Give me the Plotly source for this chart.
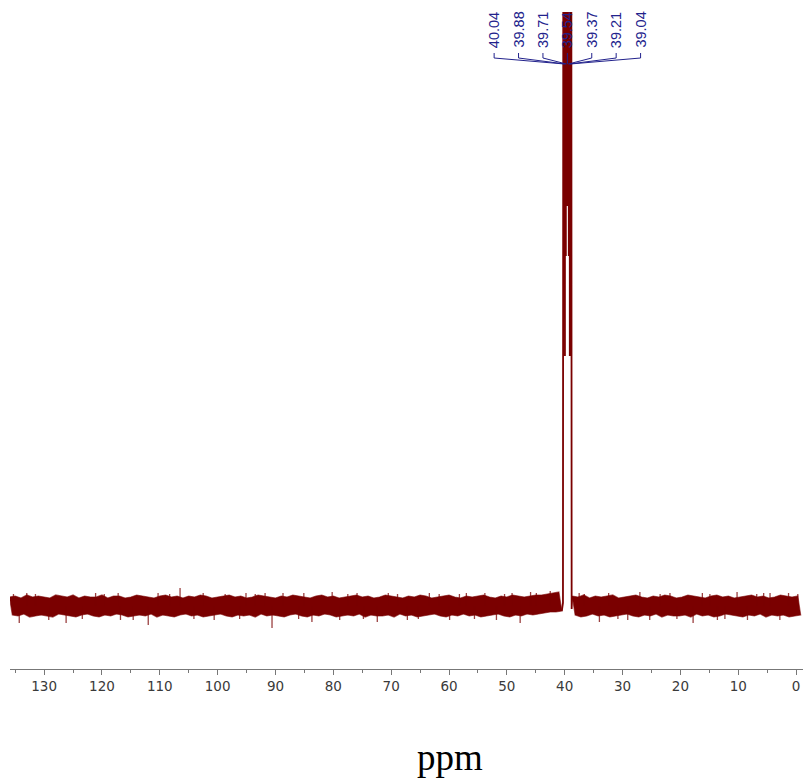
import numpy as np
import plotly.graph_objects as go

# ---- data (intensities in arbitrary units, baseline = 0) ----
# noise band extremes left of the solvent peak: pairs (hi at p, lo at p-0.5), p = 136 ... 41 ppm
noise_left_hi = [9, 10, 8, 11, 9, 10, 9, 8, 11, 10, 9, 11, 8, 10, 9, 9, 11, 8, 10, 10,
                 8, 9, 11, 10, 9, 8, 10, 11, 9, 10, 8, 10, 9, 11, 10, 8, 9, 10, 11, 9,
                 10, 8, 9, 11, 10, 9, 8, 10, 9, 11, 10, 9, 8, 10, 11, 9, 10, 8, 9, 10,
                 11, 9, 10, 8, 9, 11, 10, 9, 8, 10, 9, 11, 10, 8, 9, 10, 11, 9, 8, 10,
                 9, 10, 11, 9, 8, 10, 9, 11, 10, 9, 10, 11, 11, 12, 13, 14]
noise_left_lo = [-9, -10, -8, -11, -10, -9, -10, -11, -8, -9, -10, -11, -9, -8, -10, -11, -9, -10, -8, -9,
                 -11, -10, -9, -10, -8, -11, -9, -10, -11, -9, -8, -10, -9, -11, -10, -9, -8, -10, -11, -9,
                 -10, -9, -11, -8, -10, -9, -10, -11, -9, -8, -10, -11, -9, -10, -8, -9, -11, -10, -9, -10,
                 -8, -11, -9, -10, -10, -9, -11, -8, -10, -9, -11, -10, -9, -8, -10, -11, -9, -10, -8, -10,
                 -9, -11, -10, -9, -8, -10, -11, -9, -10, -8, -9, -8, -7, -6, -6, -5]
# right of the solvent peak: pairs (hi at p, lo at p-0.5), p = 38.7 ... -0.3 ppm
noise_right_hi = [10, 9, 11, 8, 10, 9, 10, 11, 8, 9, 10, 11, 9, 8, 10, 9, 11, 10, 8, 9,
                  11, 10, 9, 8, 10, 11, 9, 10, 8, 9, 10, 11, 9, 10, 8, 9, 11, 10, 9, 10]
noise_right_lo = [-9, -11, -10, -8, -10, -9, -11, -10, -9, -8, -10, -11, -9, -10, -8, -11, -9, -10, -10, -9,
                  -11, -8, -10, -9, -11, -10, -8, -9, -10, -11, -9, -10, -8, -11, -9, -10, -9, -11, -10, -9]
# isolated noise spikes sticking out of the band
spike_ppm = [135.3, 134.3, 133.0, 131.5, 129.2, 126.2, 123.4, 121.1, 119.6, 117.2, 116.8, 114.6,
             112.0, 110.3, 108.3, 106.5, 104.1, 102.5, 100.6, 98.7, 96.2, 95.1, 93.5, 91.8,
             90.6, 88.7, 86.0, 85.1, 83.7, 80.2, 78.9, 77.5, 75.9, 74.8, 72.4, 70.5, 68.9,
             67.2, 65.3, 63.4, 61.7, 59.9, 58.2, 57.0, 55.6, 53.8, 51.8, 50.4, 49.1, 47.7,
             45.9, 44.9, 42.5, 37.5, 36.6, 34.0, 32.4, 30.8, 29.1, 27.0, 25.3, 23.5, 21.8,
             20.6, 17.8, 16.2, 14.9, 13.6, 12.3, 10.2, 8.4, 6.8, 5.6, 4.5, 2.8, 1.3, -0.3]
spike_val = [12, -17, 13, 12, -14, -17, -13, 13, 12, 13, -14, -14,
             -19, 13, 12, 18, -13, 13, -14, 12, -13, 13, 12, 13,
             -22, 13, -13, 13, -16, 14, -14, 12, 13, -13, -16, 13, 12,
             -14, -13, 13, 12, -14, 12, 13, -13, 13, -14, 12, 13, -17,
             14, 13, 15, 13, 12, -16, 13, -13, -14, 14, -14, 12, 13,
             -13, -17, 13, 12, -14, -13, 14, -14, 12, 13, 13, -14, 13, 12]

# DMSO-d6 septet (clipped at the top of the plot)
peak_ppm = [40.30, 40.04, 39.96, 39.88, 39.80, 39.71, 39.62, 39.54, 39.46, 39.37, 39.29, 39.21, 39.12, 39.04, 38.80]
peak_int = [3, 3000, 250, 9000, 350, 18000, 400, 21000, 400, 18000, 350, 9000, 250, 3000, -3]

label_vals = ["40.04", "39.88", "39.71", "39.54", "39.37", "39.21", "39.04"]
tick_vals = [130, 120, 110, 100, 90, 80, 70, 60, 50, 40, 30, 20, 10, 0]

RED = "#7a0000"
NAVY = "#22228c"

fig = go.Figure()


def band(ppm_start, hi, lo):
    p = ppm_start - np.arange(len(hi), dtype=float)
    ux = list(p)
    lx = list(p - 0.5)
    return ux + lx[::-1] + [ux[0]], list(hi) + list(lo)[::-1] + [hi[0]]


for start, hi, lo in [(136.0, noise_left_hi, noise_left_lo), (38.7, noise_right_hi, noise_right_lo)]:
    bx, by = band(start, hi, lo)
    fig.add_trace(go.Scatter(x=bx, y=by, mode="lines", fill="toself", fillcolor=RED,
                             line=dict(color="rgba(122,0,0,0.6)", width=1.2),
                             hoverinfo="skip", showlegend=False))

sx, sy = [], []
for p, v in zip(spike_ppm, spike_val):
    sx += [p, p, None]
    sy += [0, v, None]
fig.add_trace(go.Scatter(x=sx, y=sy, mode="lines", line=dict(color="rgba(122,0,0,0.75)", width=1.3),
                         hoverinfo="skip", showlegend=False))

# solvent peak, joined to the noise band on each side
px = [40.5] + peak_ppm + [38.7]
py = [noise_left_lo[-1]] + peak_int + [noise_right_hi[0]]
fig.add_trace(go.Scatter(x=px, y=py, mode="lines", line=dict(color=RED, width=1.8),
                         hoverinfo="skip", showlegend=False))

# ---- multiplet labels and connector lines ----
center = 39.54
spacing = 4.22
lab_x = [center + (3 - i) * spacing for i in range(len(label_vals))]
cx, cy = [], []
for i, t in enumerate(label_vals):
    fig.add_annotation(x=lab_x[i], y=556, xref="x", yref="y", text=t, textangle=-90,
                       showarrow=False, xanchor="center", yanchor="bottom",
                       font=dict(family="Liberation Sans", size=14.5, color=NAVY))
    cx += [lab_x[i], lab_x[i], float(t), None]
    cy += [553, 548, 542, None]
fig.add_trace(go.Scatter(x=cx, y=cy, mode="lines", line=dict(color=NAVY, width=1),
                         hoverinfo="skip", showlegend=False))

fig.add_annotation(x=0.555, y=-0.134, xref="paper", yref="paper", text="ppm",
                   showarrow=False, xanchor="center", yanchor="middle",
                   font=dict(family="Liberation Serif", size=37, color="black"))

fig.update_layout(
    width=803, height=779,
    margin=dict(l=10, r=0, t=12, b=110, autoexpand=False),
    paper_bgcolor="white", plot_bgcolor="white",
    showlegend=False,
    xaxis=dict(range=[135.9, -1.2], tickvals=tick_vals, ticks="outside", ticklen=5,
               tickcolor="#777", showline=True, linecolor="#777", linewidth=1,
               showgrid=False, zeroline=False, automargin=False,
               tickfont=dict(family="DejaVu Sans", size=13.5, color="#3a3a3a"),
               minor=dict(dtick=5, ticks="outside", ticklen=3, tickcolor="#777", showgrid=False)),
    yaxis=dict(range=[-63, 594], visible=False, showgrid=False, zeroline=False),
)

# remove the browser's default page margin so the 803x779 figure fills the window exactly
fig.write_html("out.html", config={"displayModeBar": False},
               post_script="document.body.style.margin='0';document.body.style.overflow='hidden';")
